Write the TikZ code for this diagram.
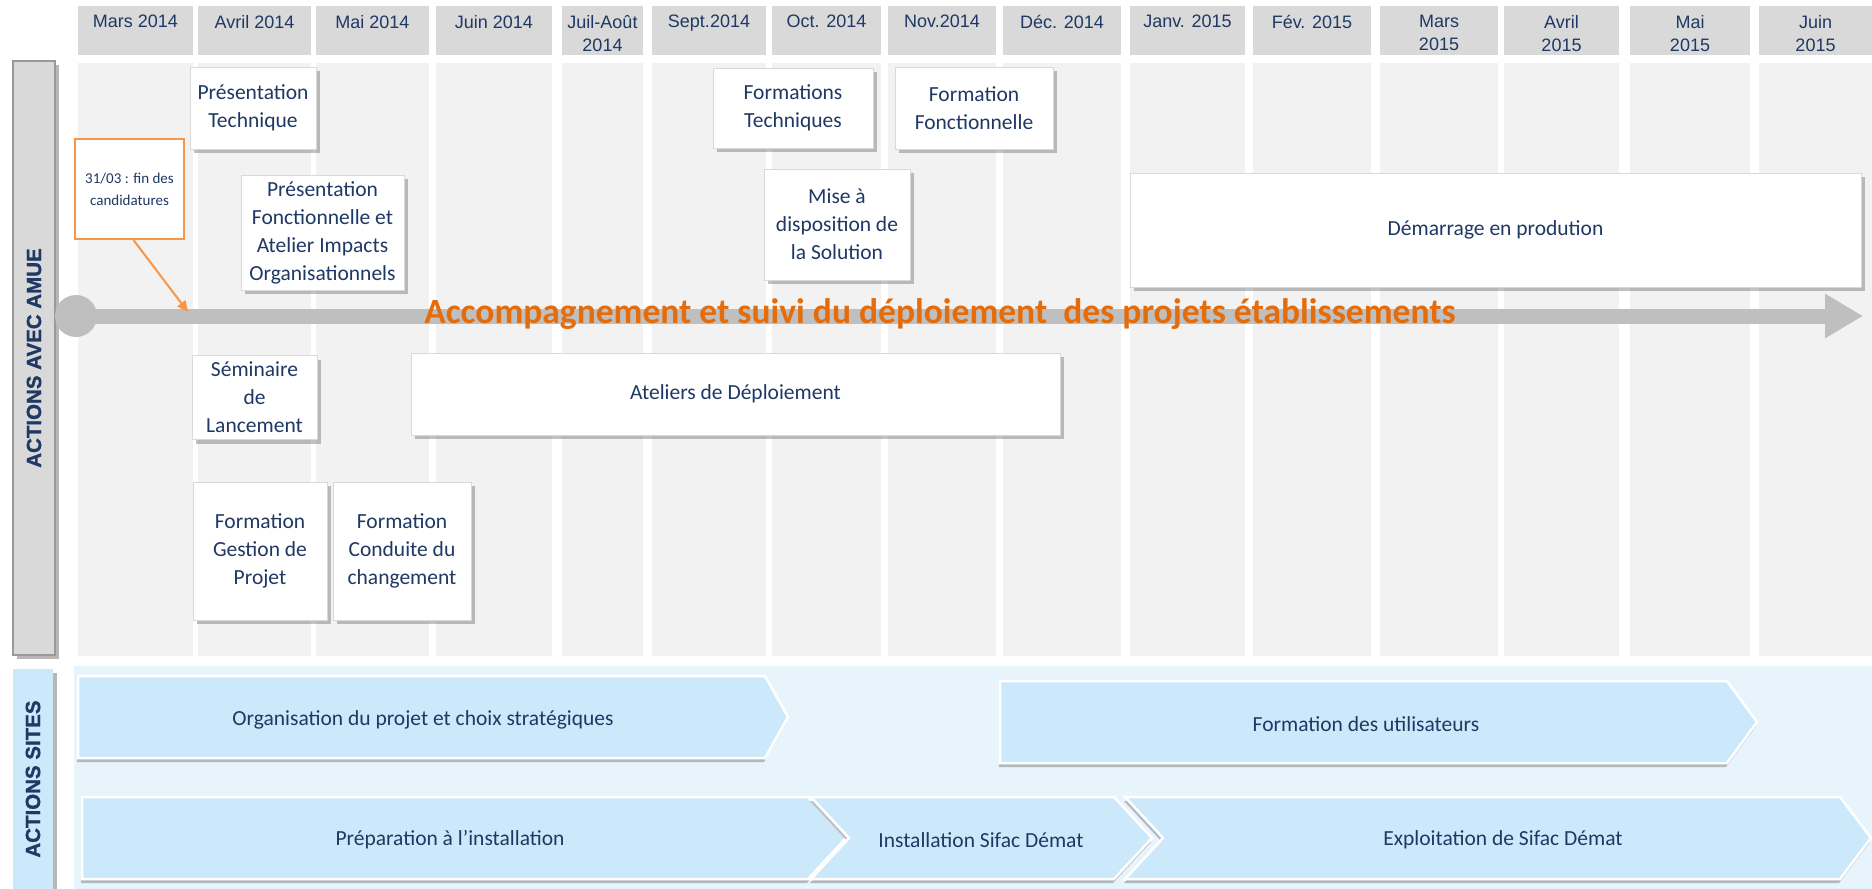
\documentclass[tikz,border=0pt]{standalone}
\usepackage{fontspec}
\setmainfont{Carlito}
\newfontfamily\hdrfont{Liberation Sans}
\newfontfamily\sidefont[FakeBold=1.2]{Liberation Sans}
\usetikzlibrary{arrows.meta,shadows}

\definecolor{navy}{RGB}{31,56,100}
\definecolor{hdrgray}{RGB}{217,217,217}
\definecolor{colgray}{RGB}{242,242,242}
\definecolor{bargray}{RGB}{191,191,191}
\definecolor{bandblue}{RGB}{232,244,252}
\definecolor{chevblue}{RGB}{204,233,251}
\definecolor{orangetxt}{RGB}{228,108,10}
\definecolor{orangeln}{RGB}{247,150,70}

\tikzset{
  mois/.style={anchor=north, align=center, inner sep=0pt, text=navy, font=\hdrfont\fontsize{18}{23}\selectfont},
  actbox/.style={draw=black!15, fill=white, align=center, inner sep=0pt, text=navy,
    font=\fontsize{21.5}{28}\selectfont,
    drop shadow={shadow xshift=4pt, shadow yshift=-4pt, opacity=.35, fill=black!70}},
  callout/.style={draw=orangeln, line width=2pt, fill=white, align=center, inner sep=0pt,
    text=navy, font=\fontsize{15}{22}\selectfont},
  chev/.style={fill=chevblue, draw=white, line width=2.5pt,
    drop shadow={shadow xshift=-1pt, shadow yshift=-4pt, opacity=.35, fill=black!70}},
  chevtxt/.style={text=navy, font=\fontsize{21.5}{28}\selectfont},
  sidebar/.style={inner sep=0pt, text=navy, font=\sidefont\bfseries\fontsize{20.5}{24}\selectfont,
    drop shadow={shadow xshift=4pt, shadow yshift=-4pt, opacity=.4, fill=black!70}},
}

\begin{document}
\begin{tikzpicture}[x=1pt, y=-1pt]
  \useasboundingbox (0,0) rectangle (1872,889);
  % months
  \foreach \xa/\xb/\mois [count=\k] in {78/193/Mars 2014, 198/311/Avril 2014, 316/429/Mai 2014, 436/552/Juin 2014, 562/643/{Juil-Août\\2014}, 652/766/Sept.2014, 772/881/Oct. 2014, 888/996/Nov.2014, 1003/1121/Déc. 2014, 1130/1245/Janv. 2015, 1253/1371/Fév. 2015, 1380/1498/{Mars\\2015}, 1504/1619/{Avril\\2015}, 1630/1750/{Mai\\2015}, 1759/1872/{Juin\\2015}} {
    \fill[hdrgray] (\xa,6) rectangle (\xb,55);
    \fill[colgray] (\xa,63) rectangle (\xb,656);
    \node[mois] (m\k) at ({(\xa+\xb)/2},15) {\mois};
  }
  \fill[bandblue] (74,666) rectangle (1872,889);

  \node[sidebar, fill=hdrgray, draw=black!40, line width=1.5pt, minimum width=42pt, minimum height=594pt] (amue) at (34,358) {\rotatebox{90}{ACTIONS AVEC AMUE}};
  \node[sidebar, fill=chevblue, minimum width=40pt, minimum height=220pt] (sites) at (33,779) {\rotatebox{90}{ACTIONS SITES}};

  % timeline
  \node[circle, fill=bargray, minimum size=42pt, inner sep=0pt] (tl0) at (76,316) {};
  \coordinate (tl1) at (1863,316);
  \draw[bargray, line width=15pt, -{Triangle[length=38pt, width=42pt]}] (tl0.center) -- (tl1);
  \node[anchor=base, inner sep=0pt, text=orangetxt, font=\bfseries\fontsize{35.5}{40}\selectfont] (suivi) at (940,323) {Accompagnement et suivi du déploiement\ \ des projets établissements};

  \node[callout, minimum width=109pt, minimum height=100pt] (fin) at (129.5,189) {31/03 : fin des\\candidatures};
  \coordinate (fin1) at (188,312);
  \draw[orangeln, line width=2pt, -{Triangle[length=11pt, width=10pt]}] ([xshift=4pt]fin.south) -- (fin1);

  \node[actbox, minimum width=126pt, minimum height=82pt] (prestech) at (253,108) {Présentation\\Technique};
  \node[actbox, minimum width=163pt, minimum height=115pt] (presfonc) at (322.5,232.5) {Présentation\\Fonctionnelle et\\Atelier Impacts\\Organisationnels};
  \node[actbox, minimum width=125pt, minimum height=84pt] (semin) at (254.5,397.5) {Séminaire\\de\\Lancement};
  \node[actbox, minimum width=134pt, minimum height=138pt] (formgest) at (260,551) {Formation\\Gestion de\\Projet};
  \node[actbox, minimum width=138pt, minimum height=138pt] (formcond) at (402,551) {Formation\\Conduite du\\changement};
  \node[actbox, minimum width=649pt, minimum height=82pt] (ateliers) at (735.5,394) {Ateliers de Déploiement};
  \node[actbox, minimum width=160pt, minimum height=80pt] (formtech) at (793,108) {Formations\\Techniques};
  \node[actbox, minimum width=158pt, minimum height=82pt] (formfonc) at (974,108) {Formation\\Fonctionnelle};
  \node[actbox, minimum width=146pt, minimum height=111pt] (misedispo) at (837,224.5) {Mise à\\disposition de\\la Solution};
  \node[actbox, minimum width=731pt, minimum height=114pt] (demarrage) at (1495.5,230) {Démarrage en prodution};

  % actions sites
  \draw[chev] (78,676) -- (765,676) -- (788,717) -- (765,758) -- (78,758) -- cycle;
  \draw[chev] (1000,681) -- (1727,681) -- (1757,722) -- (1727,763) -- (1000,763) -- cycle;
  \draw[chev] (82,797) -- (808,797) -- (846,838) -- (808,879) -- (82,879) -- cycle;
  \draw[chev] (811,797) -- (1114,797) -- (1152,838) -- (1114,879) -- (811,879) -- (849,838) -- cycle;
  \draw[chev] (1125,797) -- (1840,797) -- (1871,838) -- (1840,879) -- (1125,879) -- (1163,838) -- cycle;
  \node[chevtxt] (orga) at (423,720) {Organisation du projet et choix stratégiques};
  \node[chevtxt] (formu) at (1366,724) {Formation des utilisateurs};
  \node[chevtxt] (prepa) at (450,840) {Préparation à l’installation};
  \node[chevtxt] (instal) at (981,840) {Installation Sifac Démat};
  \node[chevtxt] (exploit) at (1503,840) {Exploitation de Sifac Démat};
\end{tikzpicture}
\end{document}
